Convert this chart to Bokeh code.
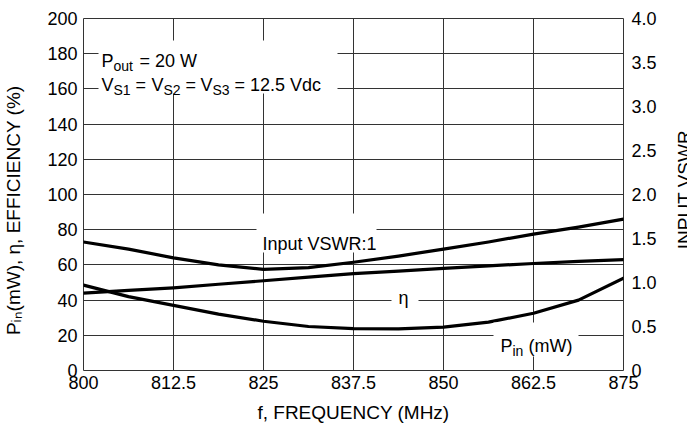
from math import pi
from bokeh.plotting import figure
from bokeh.layouts import row
from bokeh.models import (LinearAxis, Range1d, FixedTicker, Label, BoxAnnotation,
                          ColumnDataSource)
from bokeh.core.properties import value
from bokeh.embed import file_html
from bokeh.resources import INLINE

# ---------------- data ----------------
freq_mhz = [800, 806.25, 812.5, 818.75, 825, 831.25, 837.5, 843.75, 850, 856.25, 862.5, 868.75, 875]
pin_mw = [48.5, 42.0, 37.0, 32.0, 28.0, 25.0, 23.8, 23.6, 24.6, 27.5, 32.5, 40.0, 52.5]
efficiency = [44.0, 45.5, 47.0, 49.0, 51.0, 53.0, 55.0, 56.5, 58.0, 59.5, 60.8, 62.0, 63.0]
input_vswr = [1.46, 1.38, 1.28, 1.20, 1.15, 1.17, 1.23, 1.30, 1.38, 1.46, 1.55, 1.63, 1.72]

x_ticks = [800, 812.5, 825, 837.5, 850, 862.5, 875]
x_tick_labels = ["800", "812.5", "825", "837.5", "850", "862.5", "875"]
y_ticks = [0, 20, 40, 60, 80, 100, 120, 140, 160, 180, 200]
vswr_ticks = [0, 0.5, 1.0, 1.5, 2.0, 2.5, 3.0, 3.5, 4.0]
vswr_tick_labels = ["0", "0.5", "1.0", "1.5", "2.0", "2.5", "3.0", "3.5", "4.0"]
right_title = "INPUT VSWR"

FONT = "Liberation Sans"
FS = "18px"
AXFS = "19px"
SUB = "14px"
GRID = "#333333"
PAD = "\u00a0" * 6

# canvas pixel -> data helpers (annotation placement only)
def DX(px):
    return 800 + (px - 80) * 75.0 / 540.0

def DY(py):
    return (370 - py) * 200.0 / 352.0

p = figure(width=662, height=434, frame_width=540, frame_height=352,
           x_range=Range1d(800, 875), y_range=Range1d(0, 200),
           output_backend="svg", toolbar_location=None,
           min_border_left=80, min_border_right=42, min_border_top=18, min_border_bottom=64)
p.extra_y_ranges = {"vswr": Range1d(0, 4)}

p.outline_line_color = GRID
p.outline_line_width = 1
p.background_fill_color = "white"
p.border_fill_color = "white"

def style_axis(ax, standoff=6):
    ax.axis_line_color = None
    ax.major_tick_line_color = None
    ax.minor_tick_line_color = None
    ax.major_tick_out = 0
    ax.major_tick_in = 0
    ax.minor_tick_out = 0
    ax.minor_tick_in = 0
    ax.major_label_text_font = FONT
    ax.major_label_text_font_size = FS
    ax.major_label_text_color = "black"
    ax.major_label_standoff = standoff
    ax.axis_label_text_font = FONT
    ax.axis_label_text_font_size = AXFS
    ax.axis_label_text_font_style = "normal"
    ax.axis_label_text_color = "black"

# x axis
xa = p.xaxis[0]
xa.ticker = FixedTicker(ticks=x_ticks)
xa.major_label_overrides = {t: l for t, l in zip(x_ticks, x_tick_labels)}
style_axis(xa, 5)
xa.axis_label = "f, FREQUENCY (MHz)"
xa.axis_label_standoff = 10

# left axis
ya = p.yaxis[0]
ya.ticker = FixedTicker(ticks=y_ticks)
style_axis(ya, 6)
ya.axis_label = "P\u1d62\u2099(mW), \u03b7, EFFICIENCY (%)" + PAD
ya.axis_label_standoff = 20

# right axis (tick labels; its title is drawn in a slim side panel)
ra = LinearAxis(y_range_name="vswr", ticker=FixedTicker(ticks=vswr_ticks))
ra.major_label_overrides = {t: l for t, l in zip(vswr_ticks, vswr_tick_labels)}
style_axis(ra, 8)
p.add_layout(ra, "right")

# grids
p.xgrid.ticker = FixedTicker(ticks=x_ticks)
p.ygrid.ticker = FixedTicker(ticks=y_ticks)
for g in (p.xgrid[0], p.ygrid[0]):
    g.grid_line_color = GRID
    g.grid_line_width = 1
    g.grid_line_alpha = 1

# curves
src = ColumnDataSource(dict(f=freq_mhz, pin=pin_mw, eff=efficiency, vswr=input_vswr))
for col, rng in (("pin", "default"), ("eff", "default"), ("vswr", "vswr")):
    p.line("f", col, source=src, line_color="black", line_width=3.2,
           line_join="round", line_cap="round", y_range_name=rng)

# white boxes that break the grid under labels
for (l, r, t, b) in [(95, 334, 40, 93), (253, 373, 213, 252), (388, 415, 287, 310), (490, 575, 322, 356)]:
    p.add_layout(BoxAnnotation(left=DX(l), right=DX(r), top=DY(t), bottom=DY(b),
                               fill_color="white", fill_alpha=1, line_color=None, line_alpha=0))

def lab(px, py, text, size=FS, align="left"):
    p.add_layout(Label(x=DX(px), y=DY(py), text=text, text_font=FONT, text_font_size=size,
                       text_color="black", text_baseline="alphabetic", text_align=align))

# condition box
lab(98, 60, "P")
lab(110, 65, "out", SUB)
lab(136, 60, "= 20 W")
lab(98, 84, "V")
lab(110, 89, "S1", SUB)
lab(132, 84, "=")
lab(148, 84, "V")
lab(160, 89, "S2", SUB)
lab(182, 84, "=")
lab(197, 84, "V")
lab(209, 89, "S3", SUB)
lab(231, 84, "= 12.5 Vdc")

# curve labels
lab(259, 243, "Input VSWR:1")
lab(395, 297, "\u03b7")
lab(497, 345, "P")
lab(509, 350, "in", SUB)
lab(525, 345, "(mW)")

# slim side panel (no axes, frame fills it) carrying the right axis title
side = figure(width=25, height=434, x_range=Range1d(0, 25), y_range=Range1d(0, 434),
              x_axis_type=None, y_axis_type=None,
              output_backend="svg", toolbar_location=None,
              min_border=0, min_border_left=0, min_border_right=0,
              min_border_top=0, min_border_bottom=0)
side.grid.visible = False
side.outline_line_color = None
side.background_fill_color = "white"
side.border_fill_color = "white"
side.text(x=[19], y=[434 - 211], text=[right_title], angle=pi / 2,
          text_font=value(FONT), text_font_size=AXFS, text_color="black",
          text_align="center", text_baseline="alphabetic")

layout = row(p, side, spacing=0)
open("out.html", "w").write(file_html(layout, INLINE))
